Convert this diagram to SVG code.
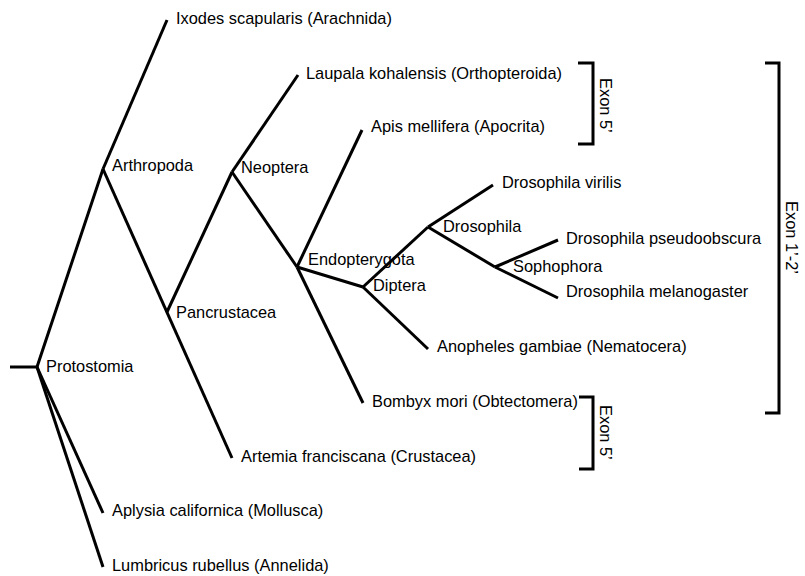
<svg xmlns="http://www.w3.org/2000/svg" width="805" height="576" viewBox="0 0 805 576">
  <style>
    .br { stroke: #000; stroke-width: 3; fill: none; stroke-linecap: butt; stroke-linejoin: miter; }
    .lbl { font-family: "Liberation Sans", Arial, sans-serif; font-size: 16.4px; fill: #000; }
  </style>
  <rect width="805" height="576" fill="#fff"/>

  <!-- branches of the tree -->
  <g id="connectors" class="br">
    <line x1="10" y1="367" x2="37" y2="367"/>
    <line x1="37" y1="367" x2="103" y2="169"/>
    <line x1="37" y1="367" x2="103" y2="513"/>
    <line x1="37" y1="367" x2="103" y2="567"/>
    <line x1="103" y1="169" x2="167" y2="20"/>
    <line x1="103" y1="169" x2="232" y2="458"/>
    <line x1="167" y1="312" x2="232" y2="172"/>
    <line x1="232" y1="172" x2="298" y2="75"/>
    <line x1="232" y1="172" x2="297" y2="267"/>
    <line x1="297" y1="267" x2="362" y2="130"/>
    <line x1="297" y1="267" x2="363" y2="403"/>
    <line x1="297" y1="267" x2="363" y2="287"/>
    <line x1="363" y1="287" x2="428" y2="227"/>
    <line x1="363" y1="287" x2="428" y2="349"/>
    <line x1="428" y1="227" x2="493" y2="185"/>
    <line x1="428" y1="227" x2="495" y2="267"/>
    <line x1="495" y1="267" x2="558" y2="240"/>
    <line x1="495" y1="267" x2="558" y2="298"/>
  </g>

  <!-- internal nodes -->
  <g id="protostomia"><text class="lbl" x="46" y="372">Protostomia</text></g>
  <g id="arthropoda"><text class="lbl" x="112" y="171">Arthropoda</text></g>
  <g id="pancrustacea"><text class="lbl" x="176" y="318">Pancrustacea</text></g>
  <g id="neoptera"><text class="lbl" x="241" y="173">Neoptera</text></g>
  <g id="endopterygota"><text class="lbl" x="308" y="265">Endopterygota</text></g>
  <g id="diptera"><text class="lbl" x="373" y="291">Diptera</text></g>
  <g id="drosophila"><text class="lbl" x="443" y="232">Drosophila</text></g>
  <g id="sophophora"><text class="lbl" x="513" y="272">Sophophora</text></g>

  <!-- leaves -->
  <g id="ixodes"><text class="lbl" x="176" y="24">Ixodes scapularis (Arachnida)</text></g>
  <g id="laupala"><text class="lbl" x="306" y="79">Laupala kohalensis (Orthopteroida)</text></g>
  <g id="apis"><text class="lbl" x="371" y="132">Apis mellifera (Apocrita)</text></g>
  <g id="virilis"><text class="lbl" x="502" y="188">Drosophila virilis</text></g>
  <g id="pseudoobscura"><text class="lbl" x="566" y="244">Drosophila pseudoobscura</text></g>
  <g id="melanogaster"><text class="lbl" x="566" y="297">Drosophila melanogaster</text></g>
  <g id="anopheles"><text class="lbl" x="437" y="352">Anopheles gambiae (Nematocera)</text></g>
  <g id="bombyx"><text class="lbl" x="372" y="407">Bombyx mori (Obtectomera)</text></g>
  <g id="artemia"><text class="lbl" x="241" y="462">Artemia franciscana (Crustacea)</text></g>
  <g id="aplysia"><text class="lbl" x="112" y="516">Aplysia californica (Mollusca)</text></g>
  <g id="lumbricus"><text class="lbl" x="112" y="571">Lumbricus rubellus (Annelida)</text></g>

  <!-- exon brackets -->
  <g id="exon5-upper">
    <path class="br" d="M578,63 H593 V144 H578"/>
    <text class="lbl" transform="translate(600,78) rotate(90)">Exon 5’</text>
  </g>
  <g id="exon12">
    <path class="br" d="M765,63 H779 V413 H765"/>
    <text class="lbl" transform="translate(786,201) rotate(90)">Exon 1’-2’</text>
  </g>
  <g id="exon5-lower">
    <path class="br" d="M579,397 H593 V469 H579"/>
    <text class="lbl" transform="translate(600,405) rotate(90)">Exon 5’</text>
  </g>
</svg>
